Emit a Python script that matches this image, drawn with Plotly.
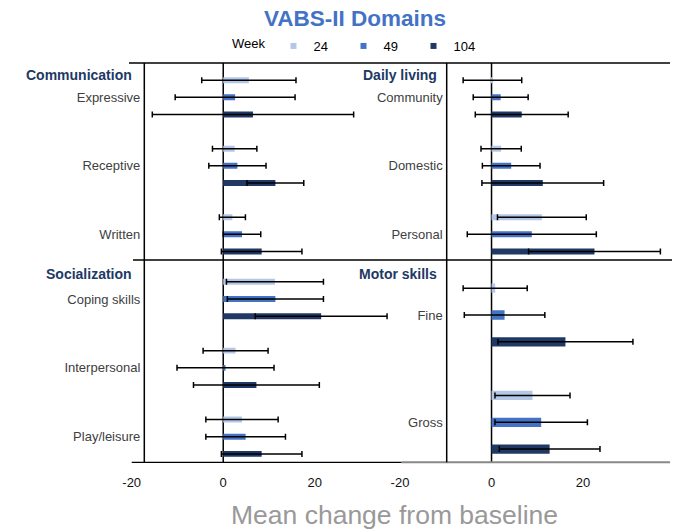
import plotly.graph_objects as go

W, H = 677, 529

# ---------------- data ----------------
weeks = ["24", "49", "104"]
week_colors = ["#B4C7E7", "#4472C4", "#203864"]

comm_cats = ["Expressive", "Receptive", "Written"]
comm_24 = [5.6, 2.5, 2.0]
comm_49 = [2.6, 3.1, 4.1]
comm_104 = [6.5, 11.4, 8.4]
comm_err_24 = [10.3, 4.85, 2.85]
comm_err_49 = [13.1, 6.25, 4.1]
comm_err_104 = [22.0, 6.2, 8.8]

daily_cats = ["Community", "Domestic", "Personal"]
daily_24 = [0.2, 2.1, 11.0]
daily_49 = [2.0, 4.3, 8.8]
daily_104 = [6.6, 11.2, 22.5]
daily_err_24 = [6.4, 4.4, 9.7]
daily_err_49 = [6.0, 6.3, 14.1]
daily_err_104 = [10.15, 13.3, 14.4]

social_cats = ["Coping skills", "Interpersonal", "Play/leisure"]
social_24 = [11.3, 2.7, 4.1]
social_49 = [11.4, 0.5, 4.9]
social_104 = [21.4, 7.25, 8.4]
social_err_24 = [10.6, 7.1, 7.9]
social_err_49 = [10.5, 10.6, 8.7]
social_err_104 = [14.4, 13.75, 8.8]

motor_cats = ["Fine", "Gross"]
motor_24 = [0.8, 8.95]
motor_49 = [2.85, 10.85]
motor_104 = [16.15, 12.7]
motor_err_24 = [7.0, 8.2]
motor_err_49 = [8.8, 10.1]
motor_err_104 = [14.75, 11.0]

x_tick_vals = [-20, 0, 20]
x_tick_text = ["-20", "0", "20"]
x_range = [-20, 39]

# ---------------- helpers ----------------
def px(x):
    return x / W


def py(y):
    return 1 - y / H


FONT = "Liberation Sans, Arial, Helvetica, sans-serif"

panels = [
    ("x", "y", comm_cats, [comm_24, comm_49, comm_104], [comm_err_24, comm_err_49, comm_err_104]),
    ("x2", "y2", daily_cats, [daily_24, daily_49, daily_104], [daily_err_24, daily_err_49, daily_err_104]),
    ("x3", "y3", social_cats, [social_24, social_49, social_104], [social_err_24, social_err_49, social_err_104]),
    ("x4", "y4", motor_cats, [motor_24, motor_49, motor_104], [motor_err_24, motor_err_49, motor_err_104]),
]

fig = go.Figure()
for xa, ya, cats, vals, errs in panels:
    for wk, col, v, e in zip(weeks, week_colors, vals, errs):
        fig.add_trace(go.Bar(
            y=cats, x=v, orientation="h", xaxis=xa, yaxis=ya,
            marker=dict(color=col, line=dict(width=0)),
            error_x=dict(type="data", array=e, symmetric=True, color="#000000",
                         thickness=1.5, width=3),
            name=wk, showlegend=False, legendgroup=wk,
        ))

# legend entries (small squares)
for wk, col in zip(weeks, week_colors):
    fig.add_trace(go.Scatter(
        x=[None], y=[None], mode="markers", xaxis="x", yaxis="y",
        marker=dict(symbol="square", size=6, color=col),
        name=wk, showlegend=True, legendgroup=wk,
    ))

left_dom = [px(131.7), px(401.7)]
right_dom = [px(400.0), px(670.0)]
top_dom = [py(268.55), py(63.05)]
botl_dom = [py(471.1), py(264.6)]
motor_dom = [py(475.95), py(261.35)]


def hidden_x(dom, anchor):
    return dict(domain=dom, range=x_range, anchor=anchor, showticklabels=False,
                showgrid=False, zeroline=False, showline=False, ticks="",
                automargin=False, fixedrange=True)


def shown_x(dom):
    return dict(domain=dom, range=x_range, anchor="free", position=py(462.3),
                tickvals=x_tick_vals, ticktext=x_tick_text, showgrid=False,
                zeroline=False, showline=False, ticks="outside", ticklen=8,
                tickcolor="rgba(0,0,0,0)", automargin=False, fixedrange=True,
                tickfont=dict(family=FONT, size=13, color="#111111"))


def cat_y(dom, cats, xpos):
    return dict(domain=dom, type="category", categoryorder="array", categoryarray=cats,
                autorange="reversed", anchor="free", position=px(xpos),
                showgrid=False, zeroline=False, showline=False, ticks="",
                ticklabelstandoff=4, automargin=False, fixedrange=True,
                tickfont=dict(family=FONT, size=13, color="#404040"))


fig.update_layout(
    template="none",
    width=W, height=H, autosize=False,
    margin=dict(l=0, r=0, t=0, b=0, autoexpand=False),
    paper_bgcolor="white", plot_bgcolor="rgba(0,0,0,0)",
    barmode="group", bargap=0.25, bargroupgap=0.655,
    font=dict(family=FONT, size=13, color="#000000"),
    title=dict(text="<b>VABS-II Domains</b>", x=px(355), xanchor="center",
               y=py(18), yanchor="middle",
               font=dict(family=FONT, size=22.5, color="#4472C4")),
    legend=dict(orientation="h", x=px(230), xanchor="left", y=py(46), yanchor="middle",
                title=dict(text="Week", side="left", font=dict(size=13, color="#000")),
                font=dict(family=FONT, size=13, color="#000"),
                entrywidth=25, entrywidthmode="pixels",
                bgcolor="rgba(0,0,0,0)", borderwidth=0),
    xaxis=hidden_x(left_dom, "y"),
    xaxis2=hidden_x(right_dom, "y2"),
    xaxis3=shown_x(left_dom),
    xaxis4=shown_x(right_dom),
    yaxis=cat_y(top_dom, comm_cats, 144.3),
    yaxis2=cat_y(top_dom, daily_cats, 446.7),
    yaxis3=cat_y(botl_dom, social_cats, 144.3),
    yaxis4=cat_y(motor_dom, motor_cats, 446.7),
)

# frame lines
def pline(x0, y0, x1, y1, color="#000000", width=1.5):
    fig.add_shape(type="line", xref="paper", yref="paper",
                  x0=px(x0), y0=py(y0), x1=px(x1), y1=py(y1),
                  line=dict(color=color, width=width), layer="above")

pline(129, 63, 670, 63)
pline(133, 260, 672, 260)
pline(131.7, 462.3, 401.7, 462.3, width=1.3)
pline(401.7, 462.3, 670, 462.3, color="#888888", width=2)
pline(144.3, 63, 144.3, 462.3)
pline(446.7, 63, 446.7, 462.3)

# zero lines
for xr in ["x", "x2"]:
    fig.add_shape(type="line", xref=xr, yref="paper", x0=0, x1=0,
                  y0=py(63), y1=py(462.3), line=dict(color="#000000", width=1.5),
                  layer="below")

# panel titles
for text, xr, yc in [("Communication", 134.3, 74.7), ("Daily living", 439.0, 74.7),
                     ("Socialization", 134.3, 274.0), ("Motor skills", 439.0, 274.0)]:
    fig.add_annotation(text=f"<b>{text}</b>", xref="paper", yref="paper",
                       x=px(xr), y=py(yc), xanchor="right", yanchor="middle",
                       showarrow=False, font=dict(family=FONT, size=14, color="#203864"))

# axis title
fig.add_annotation(text="Mean change from baseline", xref="paper", yref="paper",
                   x=px(394), y=py(515), xanchor="center", yanchor="middle",
                   showarrow=False, font=dict(family=FONT, size=26.5, color="#999999"))

fig.write_html(
    "out.html",
    config={"displayModeBar": False},
    post_script="document.body.style.margin='0';document.body.style.overflow='hidden';",
)
